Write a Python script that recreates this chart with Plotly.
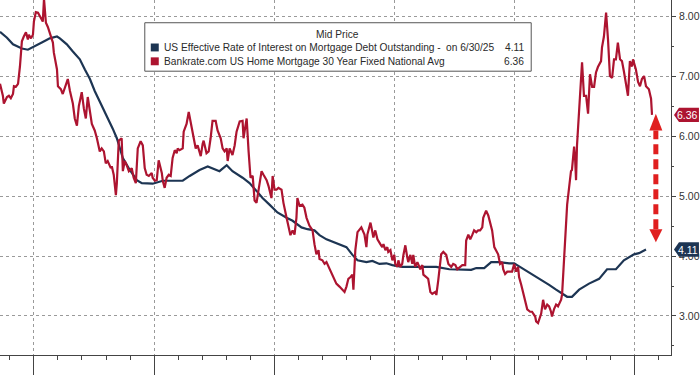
import plotly.graph_objects as go

# ---- data (decimal years, percent) ----
bank_x = [1998.59,1998.71,1998.75,1998.88,1998.96,1999.04,1999.13,1999.17,1999.25,1999.34,1999.42,1999.50,1999.58,1999.67,1999.75,1999.79,1999.88,1999.96,
2000.00,2000.08,2000.17,2000.29,2000.37,2000.42,2000.50,2000.58,2000.66,2000.79,2000.83,2000.96,2001.00,2001.12,2001.20,2001.29,2001.41,2001.50,2001.62,2001.70,2001.79,2001.87,2001.99,
2002.08,2002.16,2002.24,2002.33,2002.41,2002.53,2002.62,2002.74,2002.82,2002.91,2002.99,2003.07,2003.20,2003.24,2003.32,2003.41,2003.45,2003.53,2003.65,2003.70,2003.78,2003.86,2003.95,
2004.07,2004.15,2004.24,2004.32,2004.44,2004.53,2004.61,2004.69,2004.78,2004.90,2004.94,2005.03,2005.11,2005.19,2005.32,2005.36,2005.44,2005.52,2005.61,2005.69,2005.77,2005.86,2005.94,2005.98,
2006.06,2006.19,2006.23,2006.35,2006.44,2006.56,2006.64,2006.73,2006.81,2006.94,2007.02,2007.06,2007.18,2007.27,2007.35,2007.43,2007.56,2007.64,2007.77,2007.85,2007.93,
2008.02,2008.06,2008.14,2008.26,2008.35,2008.43,2008.56,2008.68,2008.72,2008.80,2008.85,2008.93,2009.01,2009.10,2009.18,2009.26,2009.34,2009.47,2009.55,2009.68,2009.76,2009.88,2009.93,
2010.01,2010.09,2010.17,2010.30,2010.38,2010.51,2010.59,2010.67,2010.76,2010.84,2010.92,2010.96,2011.05,2011.17,2011.25,2011.34,2011.46,2011.59,2011.67,2011.75,2011.84,2011.88,
2012.00,2012.09,2012.17,2012.29,2012.42,2012.50,2012.58,2012.71,2012.83,2012.92,2013.00,2013.08,2013.17,2013.25,2013.29,2013.37,2013.46,2013.54,2013.62,2013.75,2013.83,2013.87,
2014.00,2014.08,2014.12,2014.20,2014.29,2014.41,2014.49,2014.54,2014.62,2014.70,2014.74,2014.83,2014.91,2014.99,2015.03,2015.12,2015.16,2015.24,2015.32,2015.37,2015.45,2015.53,2015.57,2015.66,2015.74,2015.78,2015.86,2015.95,2015.99,
2016.07,2016.16,2016.20,2016.32,2016.40,2016.49,2016.57,2016.70,2016.74,2016.82,2016.94,2017.03,2017.15,2017.24,2017.36,2017.44,2017.53,2017.61,2017.73,2017.82,2017.94,2017.98,
2018.07,2018.15,2018.23,2018.31,2018.40,2018.48,2018.56,2018.65,2018.69,2018.81,2018.90,2018.98,2019.06,2019.15,2019.23,2019.31,2019.39,2019.48,2019.52,2019.60,2019.69,2019.81,2019.89,2019.98,
2020.06,2020.14,2020.18,2020.27,2020.35,2020.43,2020.52,2020.64,2020.72,2020.85,2020.89,2020.97,2021.10,2021.18,2021.26,2021.35,2021.43,2021.51,2021.55,2021.64,2021.72,2021.80,2021.93,2021.97,
2022.05,2022.14,2022.18,2022.26,2022.34,2022.38,2022.47,2022.51,2022.55,2022.59,2022.68,2022.76,2022.80,2022.88,2022.97,2023.05,2023.13,2023.22,2023.30,2023.38,2023.46,2023.59,2023.63,2023.71,2023.80,2023.88,2023.96,
2024.05,2024.13,2024.21,2024.29,2024.38,2024.46,2024.54,2024.63,2024.71,2024.79,2024.88,2024.92,2025.04,2025.13,2025.21,2025.29,2025.38,2025.46,2025.58,2025.67,2025.71]
bank_y = [6.88,6.68,6.55,6.66,6.68,6.64,6.71,6.84,6.83,6.88,7.17,7.59,7.67,7.74,7.62,7.70,7.64,7.70,
7.92,8.08,8.07,7.98,7.92,8.30,7.90,7.83,7.74,7.57,7.40,7.12,6.84,6.79,6.71,6.83,6.96,6.76,6.55,6.30,6.18,6.51,6.74,
6.46,6.30,6.66,6.41,6.21,6.10,5.97,5.75,5.80,5.75,5.55,5.59,5.47,5.50,5.36,5.02,5.22,5.93,5.97,5.42,5.59,5.52,5.42,
5.47,5.31,5.22,5.80,5.92,5.85,5.47,5.36,5.34,5.39,5.31,5.26,5.27,5.60,5.39,5.26,5.14,5.31,5.36,5.34,5.64,5.77,5.72,5.80,
5.77,5.80,6.08,6.21,6.41,6.18,6.00,5.80,5.85,5.67,5.88,5.93,5.72,5.75,5.97,6.26,6.26,6.10,5.97,5.80,5.75,
5.80,5.59,5.80,5.69,5.85,6.08,6.25,6.26,5.97,6.18,6.30,5.75,5.31,5.34,4.93,4.89,5.11,5.42,5.36,5.27,5.17,4.97,5.34,
5.11,5.11,5.14,5.11,4.89,4.64,4.48,4.35,4.43,4.36,4.64,4.97,4.84,4.86,4.81,4.64,4.51,4.43,4.20,4.03,4.10,3.95,
3.93,3.87,3.90,3.80,3.69,3.60,3.54,3.49,3.44,3.40,3.49,3.62,3.65,3.69,3.44,4.10,4.40,4.45,4.48,4.36,4.15,4.36,
4.56,4.40,4.31,4.43,4.28,4.20,4.15,4.20,4.10,4.15,4.07,4.10,3.93,4.02,3.87,3.82,3.93,3.82,3.87,4.02,4.18,3.98,3.90,4.02,3.87,4.02,3.82,3.90,3.85,
3.78,3.85,3.69,3.65,3.62,3.40,3.37,3.40,3.35,3.60,4.03,4.07,4.02,3.87,3.82,3.87,3.85,3.78,3.82,3.85,3.85,4.26,
4.36,4.28,4.35,4.43,4.40,4.43,4.43,4.48,4.64,4.76,4.68,4.53,4.43,4.15,4.10,4.03,3.87,3.90,3.78,3.70,3.74,3.74,3.74,3.87,
3.74,3.82,3.65,3.52,3.40,3.24,3.11,3.07,3.07,2.99,2.91,2.88,3.04,3.27,3.11,3.19,3.16,3.07,2.99,3.12,3.19,3.16,3.27,3.36,
3.87,4.43,4.86,5.14,5.42,5.44,5.83,5.64,5.27,5.85,6.41,7.07,7.24,6.68,6.68,6.38,7.04,6.83,6.83,7.07,7.16,7.26,7.49,7.67,8.07,7.62,7.01,
6.98,7.29,7.29,7.57,7.29,7.26,7.09,6.83,6.68,7.26,7.17,7.29,7.12,6.91,6.84,6.96,7.01,6.84,6.79,6.63,6.36]

eff_x = [1998.59,1998.88,1999.13,1999.50,1999.75,1999.96,2000.33,2000.66,2000.96,2001.08,2001.37,2001.62,2001.91,2002.12,2002.33,2002.53,2002.74,2003.03,2003.28,2003.45,2003.70,2003.99,
2004.28,2004.49,2004.94,2005.36,2006.19,2006.48,2006.89,2007.23,2007.72,2008.02,2008.26,2008.68,2008.97,2009.26,2009.51,2009.80,2010.13,2010.51,2010.76,2011.13,2011.38,2011.67,2011.88,
2012.17,2012.58,2013.00,2013.25,2013.46,2013.83,2014.08,2014.37,2014.66,2014.91,2015.32,2016.16,2016.74,2017.28,2017.69,2018.19,2018.40,2018.73,2019.02,2019.35,2019.77,2019.98,
2020.10,2020.39,2020.72,2021.14,2021.43,2021.72,2021.97,2022.18,2022.38,2022.68,2023.09,2023.51,2023.84,2024.21,2024.54,2024.96,2025.17,2025.46]
eff_y = [7.75,7.65,7.54,7.47,7.45,7.49,7.57,7.64,7.67,7.64,7.54,7.42,7.29,7.12,6.96,6.76,6.59,6.35,6.13,5.97,5.64,5.44,
5.27,5.22,5.21,5.26,5.26,5.34,5.44,5.50,5.42,5.52,5.42,5.31,5.22,5.09,4.97,4.86,4.73,4.64,4.59,4.48,4.45,4.43,4.35,
4.28,4.21,4.15,4.02,3.93,3.90,3.92,3.87,3.88,3.85,3.82,3.82,3.82,3.78,3.77,3.77,3.80,3.80,3.90,3.90,3.88,3.88,
3.85,3.78,3.70,3.60,3.52,3.44,3.37,3.32,3.32,3.44,3.54,3.62,3.78,3.78,3.93,4.03,4.05,4.11]

eff_name = "US Effective Rate of Interest on Mortgage Debt Outstanding -"
bank_name = "Bankrate.com US Home Mortgage 30 Year Fixed National Avg"
eff_last = "4.11"
bank_last = "6.36"
legend_title = "Mid Price"
as_of = "on 6/30/25"
y_ticks = [3, 4, 5, 6, 7, 8]
y_tick_text = ["3.00", "4.00", "5.00", "6.00", "7.00", "8.00"]
x_major = [2000, 2005, 2010, 2015, 2020, 2025]

RED = "#ad1430"
BLUE = "#1d3553"
ARROW = "#e01f1f"
TXT = "#2a2a2a"
LFONT = 10.2

fig = go.Figure()
fig.add_trace(go.Scatter(x=eff_x, y=eff_y, mode="lines", line=dict(color=BLUE, width=2.2),
                         name=eff_name, showlegend=False))
fig.add_trace(go.Scatter(x=bank_x, y=bank_y, mode="lines", line=dict(color=RED, width=2.2),
                         name=bank_name, showlegend=False))

W = 672.0  # plot width in px for paper conversion
H = 359.0
def px(p):
    return p / W
def py(p):
    return 1 - p / H

# legend box
fig.add_shape(type="rect", xref="paper", yref="paper",
              x0=px(145), x1=px(532), y0=py(72), y1=py(23),
              line=dict(color="#555", width=1), fillcolor="white", layer="above")
fig.add_annotation(xref="paper", yref="paper", x=px(338), y=py(35), text=legend_title,
                   showarrow=False, font=dict(size=LFONT, color=TXT), xanchor="center", yanchor="middle")
for row_y, col, name, val, extra in [(48, BLUE, eff_name, eff_last, as_of), (62, RED, bank_name, bank_last, "")]:
    fig.add_shape(type="rect", xref="paper", yref="paper",
                  x0=px(151), x1=px(159), y0=py(row_y + 4), y1=py(row_y - 4),
                  line=dict(width=0), fillcolor=col, layer="above")
    fig.add_annotation(xref="paper", yref="paper", x=px(162), y=py(row_y), text=name,
                       showarrow=False, font=dict(size=LFONT, color=TXT), xanchor="left", yanchor="middle")
    if extra:
        fig.add_annotation(xref="paper", yref="paper", x=px(497), y=py(row_y), text=extra,
                           showarrow=False, font=dict(size=LFONT, color=TXT), xanchor="right", yanchor="middle")
    fig.add_annotation(xref="paper", yref="paper", x=px(527), y=py(row_y), text=val,
                       showarrow=False, font=dict(size=LFONT, color=TXT), xanchor="right", yanchor="middle")

# value tags on the right axis
for val, col in [(float(bank_last), RED), (float(eff_last), BLUE)]:
    h = 0.12
    fig.add_shape(type="path", xref="paper", yref="y", layer="above",
                  path=f"M {px(675)},{val} L {px(680)},{val+h} L {px(700)},{val+h} L {px(700)},{val-h} L {px(680)},{val-h} Z",
                  fillcolor=col, line=dict(width=0))
    fig.add_annotation(xref="paper", yref="y", x=px(689), y=val, text=f"{val:.2f}", showarrow=False,
                       font=dict(size=10.5, color="white"), xanchor="center", yanchor="middle")

# red dashed double arrow
arr_x = 2025.87
arr_top, arr_bot = 6.10, 4.45
tip_top, tip_bot = 6.38, 4.23
hw = 0.27
fig.add_shape(type="line", xref="x", yref="y", x0=arr_x, x1=arr_x, y0=arr_bot, y1=arr_top,
              line=dict(color=ARROW, width=5, dash="10px,5px"))
fig.add_shape(type="path", xref="x", yref="y",
              path=f"M {arr_x-hw},{arr_top} L {arr_x},{tip_top} L {arr_x+hw},{arr_top} Z",
              fillcolor=ARROW, line=dict(width=0))
fig.add_shape(type="path", xref="x", yref="y",
              path=f"M {arr_x-hw},{arr_bot} L {arr_x},{tip_bot} L {arr_x+hw},{arr_bot} Z",
              fillcolor=ARROW, line=dict(width=0))

fig.update_layout(
    width=700, height=375,
    margin=dict(l=0, r=28, t=0, b=16, pad=0),
    paper_bgcolor="white", plot_bgcolor="white",
    font=dict(family="Liberation Sans, Arial, sans-serif", size=11, color="#333"),
    showlegend=False,
    xaxis=dict(range=[1998.59, 2026.5], tickvals=x_major, showticklabels=False,
               ticks="outside", ticklen=20, tickcolor="#444", tickwidth=1,
               showgrid=True, gridcolor="#9a9a9a", griddash="dot", gridwidth=1,
               showline=True, linecolor="#444", linewidth=1, zeroline=False,
               minor=dict(dtick=1, tick0=2000, ticks="outside", ticklen=4, tickcolor="#444", showgrid=False)),
    yaxis=dict(range=[2.347, 8.281], side="right", tickvals=y_ticks, ticktext=y_tick_text,
               ticks="outside", ticklen=4, tickcolor="#444",
               showgrid=True, gridcolor="#9a9a9a", griddash="dot", gridwidth=1,
               showline=True, linecolor="#444", linewidth=1, zeroline=False,
               tickfont=dict(size=10.5, color="#333"), ticklabelstandoff=1,
               minor=dict(dtick=0.5, tick0=0, ticks="outside", ticklen=2, tickcolor="#444", showgrid=False)),
)

fig.write_html("out.html", config={"displayModeBar": False},
               post_script="document.body.style.margin='0';document.body.style.overflow='hidden';")
